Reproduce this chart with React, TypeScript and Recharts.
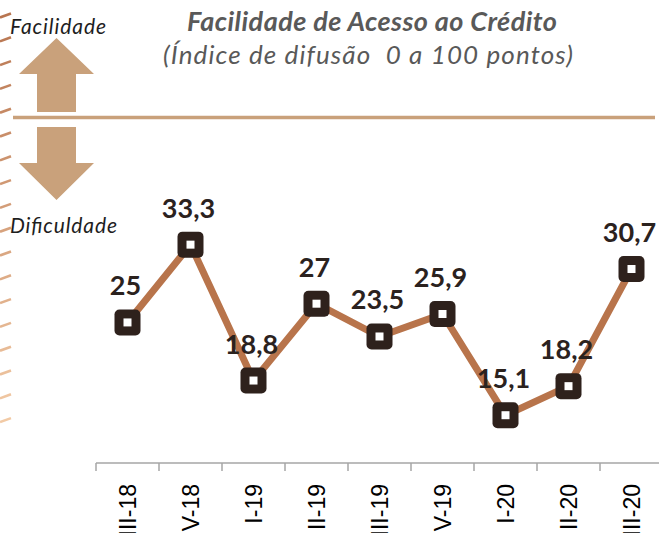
import React from 'react';
import { LineChart, Line, XAxis, YAxis, LabelList } from 'recharts';

const quarters = ['III-18', 'IV-18', 'I-19', 'II-19', 'III-19', 'IV-19', 'I-20', 'II-20', 'III-20'];
const values = [25, 33.3, 18.8, 27, 23.5, 25.9, 15.1, 18.2, 30.7];
const data = quarters.map((q, i) => ({ q, v: values[i] }));

const CW = 700;
const CH = 560;
const ML = 96;
const MR = 37;
const MT = 135;
const XH = 97;
const AXIS_Y = CH - XH;
const BAND = (CW - ML - MR) / quarters.length;

const TAN = '#c9a17b';
const LINE = '#b8744b';
const DARK = '#2e211c';

const lerp = (a: number, b: number, t: number) => Math.round(a + (b - a) * t);
const tickColor = (t: number) => `rgb(${lerp(184, 242, t)},${lerp(117, 202, t)},${lerp(80, 165, t)})`;

const SideTicks = () => {
  const n = 18;
  const items = [];
  for (let i = 0; i < n; i++) {
    const y = 15 + 23.8 * i;
    items.push(
      <line key={i} x1={0} y1={y + 2.5} x2={11} y2={y - 1.5} stroke={tickColor(i / (n - 1))} strokeWidth={2.6} />
    );
  }
  return <g>{items}</g>;
};

const XTick = (props: any) => {
  const { x, payload } = props;
  return (
    <g>
      <line x1={x - BAND / 2} x2={x - BAND / 2} y1={AXIS_Y} y2={AXIS_Y + 8} stroke="#a6a6a6" strokeWidth={1.5} />
      <text
        transform={`translate(${x + 8},${AXIS_Y + 21}) rotate(-90)`}
        textAnchor="end"
        fontFamily="'Liberation Sans', Arial, sans-serif"
        fontSize={23}
        fill="#000"
      >
        {payload.value}
      </text>
    </g>
  );
};

const Dot = (props: any) => {
  const { cx, cy, index } = props;
  return (
    <g key={`d${index}`}>
      <rect x={cx - 13} y={cy - 13} width={26} height={26} rx={5} fill={DARK} />
      <rect x={cx - 4} y={cy - 4} width={8} height={8} fill="#fff" />
    </g>
  );
};

const ValueLabel = (props: any) => {
  const { x, y, value } = props;
  return (
    <text
      x={x - 2}
      y={y - 27}
      textAnchor="middle"
      fontFamily="Lato, 'Open Sans', sans-serif"
      fontWeight={700}
      fontSize={27}
      fill="#2b221e"
    >
      {String(value).replace('.', ',')}
    </text>
  );
};

export default function App() {
  return (
    <div style={{ position: 'absolute', left: 0, top: 0, width: 659, height: 533, overflow: 'hidden', background: '#fff' }}>
      <svg width={659} height={533} style={{ position: 'absolute', left: 0, top: 0 }}>
        <SideTicks />
        <line x1={13} x2={655} y1={117.5} y2={117.5} stroke={TAN} strokeWidth={3.5} />
        <polygon points="56.5,38 94,74 76,74 76,112 37,112 37,74 19,74" fill={TAN} />
        <polygon points="37,127 76,127 76,163 94,163 56.5,200 19,163 37,163" fill={TAN} />
        <text x={10} y={34} textLength={96} fontFamily="Lato, sans-serif" fontStyle="italic" fontSize={21} fill="#1e1e1e">Facilidade</text>
        <text x={10} y={233} textLength={107} fontFamily="Lato, sans-serif" fontStyle="italic" fontSize={21} fill="#1e1e1e">Dificuldade</text>
        <text x={187} y={31} textLength={370} fontFamily="Lato, sans-serif" fontStyle="italic" fontWeight={700} fontSize={27} fill="#595959">
          Facilidade de Acesso ao Crédito
        </text>
        <text x={163} y={64} textLength={410} fontFamily="Lato, sans-serif" fontStyle="italic" fontSize={26} fill="#595959" style={{ whiteSpace: 'pre' }}>
          {'(Índice de difusão  0 a 100 pontos)'}
        </text>
      </svg>
      <div style={{ position: 'absolute', left: 0, top: 0 }}>
        <LineChart width={CW} height={CH} data={data} margin={{ top: MT, right: MR, left: ML, bottom: 0 }}>
          <YAxis hide domain={[10, 45]} type="number" />
          <XAxis
            dataKey="q"
            height={XH}
            interval={0}
            padding={{ left: BAND / 2, right: BAND / 2 }}
            axisLine={{ stroke: '#a6a6a6', strokeWidth: 1.5 }}
            tickLine={false}
            tick={<XTick />}
          />
          <Line
            type="linear"
            dataKey="v"
            stroke={LINE}
            strokeWidth={7}
            dot={<Dot />}
            activeDot={false}
            isAnimationActive={false}
          >
            <LabelList dataKey="v" content={<ValueLabel />} />
          </Line>
        </LineChart>
      </div>
    </div>
  );
}
